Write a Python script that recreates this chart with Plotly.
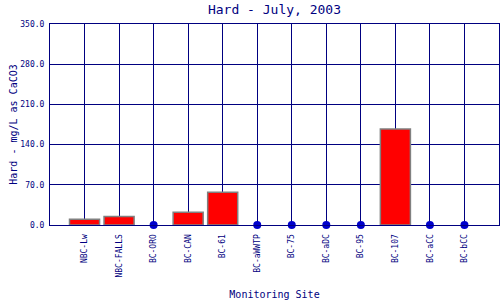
import plotly.graph_objects as go

sites = ["NBC-Lw", "NBC-FALLS", "BC-ORO", "BC-CAN", "BC-61", "BC-aWWTP",
         "BC-75", "BC-aDC", "BC-95", "BC-107", "BC-aCC", "BC-bCC"]
hardness = [10, 15, 0, 22, 57, 0, 0, 0, 0, 167, 0, 0]

NAVY = "#000080"
FONT = "DejaVu Sans Mono"

bar_vals = [v if v > 0 else None for v in hardness]
zero_sites = [s for s, v in zip(sites, hardness) if v == 0]
zero_vals = [v for v in hardness if v == 0]

fig = go.Figure()
fig.add_trace(go.Bar(
    x=sites, y=bar_vals, width=0.87,
    marker=dict(color="#FF0000", line=dict(color="#808080", width=1.5)),
    showlegend=False,
))
fig.add_trace(go.Scatter(
    x=zero_sites, y=zero_vals, mode="markers",
    marker=dict(color="#0000CC", size=8),
    showlegend=False, cliponaxis=False,
))

fig.update_layout(
    width=500, height=300,
    margin=dict(l=50, r=1, t=24, b=75),
    paper_bgcolor="white", plot_bgcolor="white",
    font=dict(family=FONT, color=NAVY),
    title=dict(text="Hard - July, 2003", x=0.549, xanchor="center", y=0.968, yanchor="middle",
               font=dict(family=FONT, size=13, color=NAVY)),
)
fig.update_xaxes(
    type="category", categoryorder="array", categoryarray=sites,
    range=[-1, 12],
    showgrid=True, gridcolor=NAVY, gridwidth=1,
    showline=True, linecolor=NAVY, linewidth=1, mirror=True,
    ticks="", tickangle=-90, ticklabelstandoff=5,
    tickfont=dict(family=FONT, size=8, color=NAVY),
    title=dict(text="Monitoring Site", font=dict(family=FONT, size=10, color=NAVY), standoff=14),
)
fig.update_yaxes(
    range=[0, 350], dtick=70, tick0=0, tickformat=".1f",
    showgrid=True, gridcolor=NAVY, gridwidth=1, zeroline=False,
    showline=True, linecolor=NAVY, linewidth=1, mirror=True,
    ticks="", ticklabelstandoff=3, tickfont=dict(family=FONT, size=8, color=NAVY),
    title=dict(text="Hard - mg/L as CaCO3", font=dict(family=FONT, size=10, color=NAVY), standoff=0),
)

fig.write_html("out.html")
